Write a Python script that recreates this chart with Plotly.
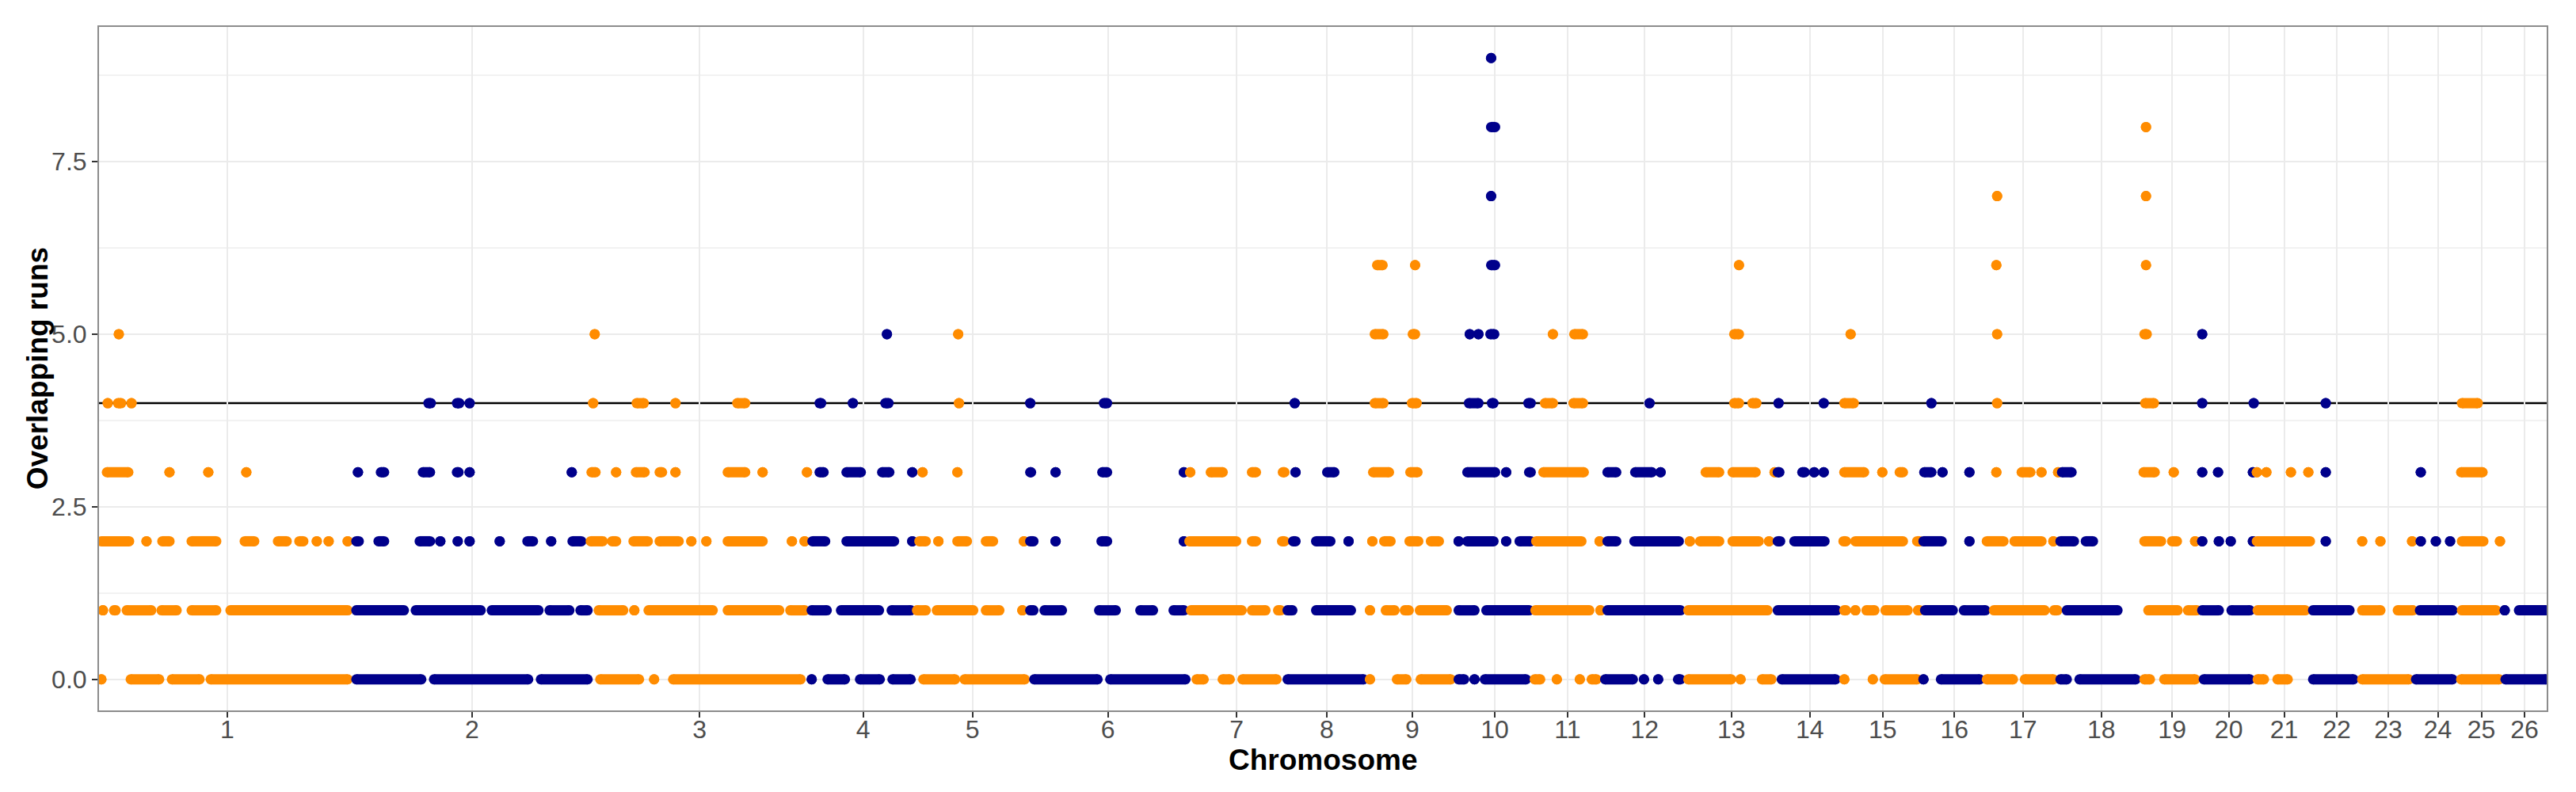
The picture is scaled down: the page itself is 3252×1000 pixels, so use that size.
import plotly.graph_objects as go

# ---------------- data ----------------
chrom_labels = ["1", "2", "3", "4", "5", "6", "7", "8", "9", "10", "11", "12", "13",
                "14", "15", "16", "17", "18", "19", "20", "21", "22", "23", "24", "25", "26"]
# chromosome lengths (genome-wide position units)
chrom_len = [324, 294, 281, 132, 144, 198, 127, 101, 115, 93, 91, 104, 115,
             83, 101, 80, 93, 105, 74, 69, 71, 62, 68, 57, 53, 56]

# stretches of consecutive SNPs sharing the same number of overlapping runs:
# (chromosome, start position, end position), genome-wide cumulative positions
runs_0 = [
    (1, 3, 3), (1, 40, 76), (1, 92, 127), (1, 141, 314),
    (2, 325, 407), (2, 423, 542), (2, 558, 617),
    (3, 633, 682), (3, 701, 701), (3, 725, 886),
    (4, 900, 900), (4, 920, 942), (4, 961, 986), (4, 1002, 1025),
    (5, 1041, 1081), (5, 1093, 1169),
    (6, 1181, 1261), (6, 1277, 1372),
    (7, 1386, 1395), (7, 1419, 1428), (7, 1444, 1487),
    (8, 1501, 1597),
    (9, 1605, 1605), (9, 1639, 1651), (9, 1669, 1707),
    (10, 1717, 1724), (10, 1737, 1737), (10, 1750, 1802),
    (11, 1813, 1820), (11, 1841, 1841), (11, 1870, 1870), (11, 1885, 1891),
    (12, 1902, 1937), (12, 1951, 1951), (12, 1969, 1969), (12, 1994, 1997),
    (13, 2007, 2061), (13, 2073, 2073), (13, 2100, 2112),
    (14, 2125, 2193),
    (15, 2204, 2204), (15, 2240, 2240), (15, 2255, 2296),
    (16, 2304, 2304), (16, 2326, 2375),
    (17, 2384, 2417), (17, 2432, 2468),
    (18, 2477, 2485), (18, 2501, 2572),
    (19, 2583, 2590), (19, 2608, 2647),
    (20, 2658, 2716),
    (21, 2726, 2734), (21, 2751, 2764),
    (22, 2796, 2847),
    (23, 2858, 2917),
    (24, 2926, 2972),
    (25, 2983, 3031),
    (26, 3039, 3090),
]
runs_1 = [
    (1, 5, 5), (1, 19, 21), (1, 35, 66), (1, 79, 98), (1, 117, 148), (1, 166, 314),
    (2, 325, 385), (2, 400, 482), (2, 496, 555), (2, 569, 594), (2, 608, 617),
    (3, 631, 662), (3, 676, 676), (3, 694, 775), (3, 794, 859), (3, 873, 891),
    (4, 900, 919), (4, 937, 985), (4, 1001, 1025),
    (5, 1033, 1044), (5, 1058, 1104), (5, 1120, 1137), (5, 1166, 1166),
    (6, 1176, 1180), (6, 1194, 1216), (6, 1263, 1284), (6, 1315, 1331), (6, 1357, 1370),
    (7, 1379, 1443), (7, 1456, 1473), (7, 1489, 1492),
    (8, 1501, 1507), (8, 1537, 1581),
    (9, 1605, 1605), (9, 1625, 1636), (9, 1649, 1654), (9, 1668, 1702),
    (10, 1717, 1737), (10, 1752, 1806),
    (11, 1814, 1882), (11, 1896, 1896),
    (12, 1905, 1997),
    (13, 2007, 2107),
    (14, 2120, 2194),
    (15, 2204, 2206), (15, 2218, 2218), (15, 2232, 2242), (15, 2256, 2284), (15, 2297, 2299),
    (16, 2306, 2341), (16, 2355, 2382),
    (17, 2393, 2457), (17, 2469, 2473),
    (18, 2485, 2549),
    (19, 2588, 2625), (19, 2638, 2649),
    (20, 2656, 2677), (20, 2693, 2716),
    (21, 2726, 2786),
    (22, 2796, 2842),
    (23, 2858, 2881), (23, 2903, 2922),
    (24, 2931, 2972),
    (25, 2984, 3027),
    (26, 3038, 3038), (26, 3056, 3090),
]
runs_2 = [
    (1, 3, 38), (1, 60, 60), (1, 80, 89), (1, 117, 148), (1, 184, 196), (1, 226, 237),
    (1, 253, 258), (1, 275, 275), (1, 290, 290), (1, 314, 314),
    (2, 325, 328), (2, 353, 360), (2, 405, 418), (2, 431, 431), (2, 453, 453), (2, 468, 468),
    (2, 506, 506), (2, 541, 548), (2, 571, 571), (2, 598, 609),
    (3, 621, 636), (3, 648, 653), (3, 675, 693), (3, 708, 732), (3, 748, 748), (3, 767, 767),
    (3, 794, 838), (3, 875, 875), (3, 891, 891),
    (4, 901, 917), (4, 944, 1004), (4, 1027, 1027),
    (5, 1036, 1044), (5, 1060, 1060), (5, 1084, 1096), (5, 1120, 1129), (5, 1168, 1168),
    (6, 1176, 1180), (6, 1208, 1208), (6, 1266, 1273), (6, 1370, 1370),
    (7, 1377, 1436), (7, 1456, 1461), (7, 1494, 1497),
    (8, 1508, 1511), (8, 1537, 1555), (8, 1578, 1578),
    (9, 1608, 1608), (9, 1623, 1631), (9, 1655, 1666), (9, 1682, 1692),
    (10, 1717, 1717), (10, 1728, 1761), (10, 1777, 1777), (10, 1794, 1808),
    (11, 1815, 1872), (11, 1895, 1895),
    (12, 1905, 1916), (12, 1939, 1995),
    (13, 2009, 2009), (13, 2022, 2046), (13, 2063, 2096), (13, 2109, 2109),
    (14, 2120, 2123), (14, 2141, 2179),
    (15, 2203, 2206), (15, 2218, 2278), (15, 2296, 2299),
    (16, 2304, 2327), (16, 2362, 2362),
    (17, 2384, 2405), (17, 2419, 2453), (17, 2468, 2468),
    (18, 2477, 2494), (18, 2509, 2518),
    (19, 2583, 2604), (19, 2618, 2624), (19, 2647, 2647),
    (20, 2656, 2656), (20, 2677, 2677), (20, 2692, 2692), (20, 2720, 2720),
    (21, 2725, 2792),
    (22, 2812, 2812),
    (23, 2858, 2858), (23, 2881, 2881), (23, 2921, 2921),
    (24, 2932, 2932), (24, 2951, 2951), (24, 2969, 2969),
    (25, 2984, 3011), (25, 3032, 3032),
]
runs_3 = [
    (1, 10, 37), (1, 89, 89), (1, 138, 138), (1, 186, 186),
    (2, 327, 327), (2, 356, 360), (2, 409, 418), (2, 452, 454), (2, 468, 468), (2, 597, 597),
    (3, 622, 627), (3, 653, 653), (3, 678, 689), (3, 708, 711), (3, 728, 728), (3, 794, 816),
    (3, 838, 838), (3, 894, 894),
    (4, 910, 915), (4, 944, 962), (4, 989, 998), (4, 1027, 1027),
    (5, 1040, 1040), (5, 1084, 1084),
    (6, 1176, 1177), (6, 1208, 1208), (6, 1267, 1273), (6, 1370, 1370),
    (7, 1378, 1378), (7, 1404, 1419), (7, 1456, 1461), (7, 1495, 1497),
    (8, 1511, 1511), (8, 1551, 1560),
    (9, 1609, 1629), (9, 1656, 1665),
    (10, 1728, 1763), (10, 1777, 1777), (10, 1806, 1808),
    (11, 1824, 1875),
    (12, 1905, 1916), (12, 1940, 1961), (12, 1972, 1972),
    (13, 2029, 2046), (13, 2063, 2092), (13, 2116, 2116),
    (14, 2120, 2122), (14, 2151, 2154), (14, 2166, 2166), (14, 2178, 2178),
    (15, 2204, 2229), (15, 2252, 2252), (15, 2274, 2278),
    (16, 2305, 2314), (16, 2328, 2328), (16, 2362, 2362),
    (17, 2396, 2396), (17, 2428, 2439), (17, 2453, 2453), (17, 2474, 2474),
    (18, 2479, 2491),
    (19, 2582, 2596), (19, 2620, 2620),
    (20, 2656, 2656), (20, 2676, 2676), (20, 2720, 2720),
    (21, 2725, 2725), (21, 2737, 2737), (21, 2768, 2768), (21, 2790, 2790),
    (22, 2812, 2812),
    (24, 2932, 2932),
    (25, 2983, 3010),
]
runs_4 = [
    (1, 11, 11), (1, 24, 28), (1, 41, 41),
    (2, 416, 419), (2, 452, 455), (2, 468, 468),
    (3, 624, 624), (3, 679, 688), (3, 728, 728), (3, 806, 816),
    (4, 910, 912), (4, 952, 952), (4, 993, 997),
    (5, 1086, 1086),
    (6, 1176, 1176), (6, 1269, 1273),
    (8, 1510, 1510),
    (9, 1611, 1622), (9, 1658, 1664),
    (10, 1730, 1742), (10, 1759, 1761), (10, 1805, 1808),
    (11, 1826, 1836), (11, 1862, 1874),
    (12, 1958, 1958),
    (13, 2065, 2071), (13, 2088, 2093),
    (14, 2121, 2121), (14, 2178, 2178),
    (15, 2204, 2216),
    (16, 2314, 2314),
    (17, 2397, 2397),
    (19, 2584, 2595),
    (20, 2656, 2656), (20, 2721, 2721),
    (22, 2812, 2812),
    (25, 2984, 3004),
]
runs_5 = [
    (1, 25, 25), (3, 626, 626), (4, 995, 995), (5, 1085, 1085),
    (9, 1611, 1622), (9, 1659, 1662),
    (10, 1731, 1731), (10, 1742, 1742), (10, 1757, 1762),
    (11, 1836, 1836), (11, 1863, 1874),
    (13, 2065, 2071), (15, 2212, 2212), (17, 2397, 2397),
    (19, 2583, 2586), (20, 2656, 2656),
]
runs_6 = [(9, 1614, 1621), (9, 1662, 1662), (10, 1758, 1763), (13, 2071, 2071),
          (17, 2396, 2396), (19, 2585, 2585)]
runs_7 = [(10, 1758, 1758), (17, 2397, 2397), (19, 2585, 2585)]
runs_8 = [(10, 1758, 1763), (19, 2585, 2585)]
runs_9 = [(10, 1758, 1758)]

runs_by_count = [runs_0, runs_1, runs_2, runs_3, runs_4, runs_5, runs_6, runs_7, runs_8, runs_9]
threshold = 4
colors = ["#FF8C00", "#00008B"]  # darkorange, darkblue

# ---------------- figure ----------------
cum_end = []
total = 0
for L in chrom_len:
    total += L
    cum_end.append(total)
tick_pos = [cum_end[i] - chrom_len[i] / 2 for i in range(len(chrom_len))]

fig = go.Figure()
for ci in range(len(chrom_labels)):
    chrom = ci + 1
    xs, ys = [], []
    for count, runs in enumerate(runs_by_count):
        for (c, s, e) in runs:
            if c == chrom:
                xs += [s, e, None]
                ys += [count, count, None]
    if not xs:
        continue
    col = colors[ci % 2]
    fig.add_trace(go.Scatter(
        x=xs, y=ys, mode="lines+markers",
        line=dict(color=col, width=13),
        marker=dict(color=col, size=13, line=dict(width=0)),
        connectgaps=False, showlegend=False, hoverinfo="skip",
    ))

fig.add_shape(type="line", xref="paper", x0=0, x1=1, yref="y", y0=threshold, y1=threshold,
              line=dict(color="black", width=2.5), layer="below")

font_family = "Liberation Sans, Arial, Helvetica, sans-serif"
# the page body has an 8px default margin: size the figure so it ends at the window edge
fig.update_layout(
    width=3244, height=992,
    margin=dict(l=117, r=37, t=26, b=103),
    plot_bgcolor="white", paper_bgcolor="white",
    font=dict(family=font_family),
    xaxis=dict(
        range=[0, total], tickmode="array", tickvals=tick_pos, ticktext=chrom_labels,
        showgrid=True, gridcolor="#EBEBEB", gridwidth=2, zeroline=False,
        ticks="outside", ticklen=7, tickwidth=2, tickcolor="#333333",
        tickfont=dict(size=32, color="#4D4D4D", family=font_family),
        ticklabelstandoff=-12,
        showline=True, linecolor="#8C8C8C", linewidth=2, mirror=True,
    ),
    yaxis=dict(
        range=[-0.45, 9.45], tickmode="array", tickvals=[0, 2.5, 5, 7.5],
        ticktext=["0.0", "2.5", "5.0", "7.5"],
        showgrid=True, gridcolor="#EBEBEB", gridwidth=2, zeroline=False,
        ticks="outside", ticklen=7, tickwidth=2, tickcolor="#333333",
        tickfont=dict(size=32, color="#4D4D4D", family=font_family),
        showline=True, linecolor="#8C8C8C", linewidth=2, mirror=True,
        minor=dict(tickmode="array", tickvals=[1.25, 3.75, 6.25, 8.75], showgrid=True,
                   gridcolor="#F2F2F2", gridwidth=1.5, ticks=""),
    ),
    annotations=[
        dict(text="<b>Chromosome</b>", xref="paper", yref="paper", x=0.5, y=-0.072,
             xanchor="center", yanchor="middle", showarrow=False,
             font=dict(size=37, color="black", family=font_family)),
        dict(text="<b>Overlapping runs</b>", xref="paper", yref="paper", x=-0.025, y=0.5,
             xanchor="center", yanchor="middle", textangle=-90, showarrow=False,
             font=dict(size=37, color="black", family=font_family)),
    ],
)

fig.write_html("out.html")
